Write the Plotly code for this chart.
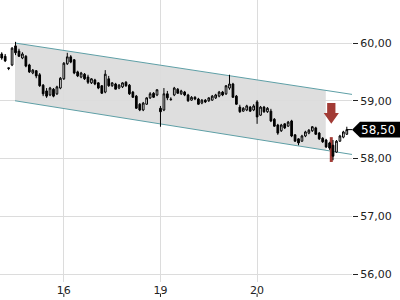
import plotly.graph_objects as go

# ---------------- data ----------------
opens = [59.81, 59.77, 59.57, 59.62, 59.95, 59.86, 59.74, 59.77, 59.62, 59.48,
         59.52, 59.45, 59.27, 59.17, 59.10, 59.20, 59.12, 59.22, 59.38, 59.64,
         59.76, 59.71, 59.50, 59.41, 59.46, 59.41, 59.31, 59.36, 59.31, 59.26,
         59.15, 59.38, 59.26, 59.29, 59.22, 59.24, 59.32, 59.27, 59.15, 59.08,
         58.94, 58.84, 58.94, 59.05, 59.13, 59.10, 58.87, 58.84, 59.12, 59.03,
         59.10, 59.20, 59.12, 59.15, 59.10, 59.01, 59.06, 59.03, 58.96, 59.01,
         59.00, 59.01, 59.05, 59.08, 59.15, 59.12, 59.22, 59.29, 59.08, 58.89,
         58.82, 58.84, 58.89, 58.84, 58.98, 58.75, 58.89, 58.81, 58.82, 58.68,
         58.58, 58.48, 58.60, 58.56, 58.65, 58.41, 58.34, 58.30, 58.39, 58.44,
         58.48, 58.53, 58.44, 58.35, 58.32, 58.27, 58.23, 58.11, 58.30, 58.37,
         58.42]
highs = [59.84, 59.81, 59.57, 59.93, 60.02, 59.90, 59.84, 59.79, 59.64, 59.55,
         59.53, 59.48, 59.29, 59.22, 59.24, 59.22, 59.26, 59.41, 59.67, 59.83,
         59.79, 59.72, 59.52, 59.50, 59.48, 59.45, 59.39, 59.38, 59.32, 59.27,
         59.53, 59.43, 59.32, 59.31, 59.29, 59.32, 59.34, 59.29, 59.17, 59.10,
         58.96, 58.98, 59.06, 59.15, 59.15, 59.20, 58.91, 59.22, 59.17, 59.06,
         59.24, 59.22, 59.19, 59.17, 59.12, 59.08, 59.08, 59.05, 59.03, 59.03,
         59.06, 59.10, 59.12, 59.17, 59.17, 59.27, 59.45, 59.31, 59.10, 58.93,
         58.89, 58.93, 58.91, 58.94, 59.01, 58.91, 58.91, 58.89, 58.86, 58.70,
         58.60, 58.60, 58.61, 58.65, 58.67, 58.42, 58.35, 58.41, 58.48, 58.51,
         58.56, 58.55, 58.46, 58.37, 58.34, 58.29, 58.32, 58.32, 58.41, 58.48,
         58.55]
lows = [59.71, 59.67, 59.53, 59.60, 59.79, 59.76, 59.72, 59.58, 59.48, 59.46,
        59.39, 59.24, 59.08, 59.05, 59.08, 59.06, 59.10, 59.20, 59.36, 59.62,
        59.65, 59.46, 59.41, 59.39, 59.36, 59.29, 59.29, 59.27, 59.20, 59.12,
        59.13, 59.24, 59.24, 59.20, 59.20, 59.22, 59.24, 59.10, 59.05, 58.86,
        58.82, 58.82, 58.93, 59.03, 59.05, 59.08, 58.55, 58.82, 59.01, 59.00,
        59.08, 59.12, 59.10, 59.08, 58.98, 59.00, 59.01, 58.93, 58.94, 58.96,
        58.98, 59.00, 59.03, 59.06, 59.08, 59.10, 59.19, 59.05, 58.93, 58.79,
        58.81, 58.82, 58.81, 58.82, 58.60, 58.74, 58.79, 58.79, 58.63, 58.55,
        58.41, 58.46, 58.51, 58.55, 58.37, 58.29, 58.23, 58.29, 58.37, 58.42,
        58.46, 58.41, 58.32, 58.27, 58.18, 58.15, 57.97, 58.10, 58.29, 58.35,
        58.41]
closes = [59.74, 59.69, 59.56, 59.91, 59.83, 59.77, 59.81, 59.60, 59.50, 59.53,
          59.43, 59.26, 59.12, 59.08, 59.22, 59.08, 59.24, 59.39, 59.65, 59.76,
          59.67, 59.48, 59.43, 59.48, 59.38, 59.32, 59.38, 59.29, 59.22, 59.13,
          59.46, 59.26, 59.31, 59.20, 59.27, 59.31, 59.26, 59.12, 59.06, 58.87,
          58.84, 58.96, 59.05, 59.12, 59.06, 59.19, 58.81, 59.12, 59.05, 59.02,
          59.22, 59.13, 59.17, 59.10, 59.00, 59.06, 59.03, 58.94, 59.01, 58.98,
          59.05, 59.08, 59.10, 59.15, 59.10, 59.26, 59.29, 59.06, 58.94, 58.81,
          58.87, 58.91, 58.82, 58.91, 58.72, 58.89, 58.81, 58.87, 58.65, 58.56,
          58.44, 58.58, 58.53, 58.63, 58.39, 58.30, 58.27, 58.39, 58.46, 58.49,
          58.55, 58.42, 58.34, 58.29, 58.20, 58.18, 58.04, 58.30, 58.39, 58.46,
          58.50]

day_labels = ["16", "19", "20"]
day_first_bar = [18, 46, 74]

# trend channel (bar index, price)
channel_start_x, channel_end_x, channel_fill_end_x = 3.85, 101.5, 93.9
channel_upper = [60.00, 59.11]
channel_lower = [59.00, 58.07]

# sell signal
signal_x = 95.5
signal_bar_range = [58.37, 57.94]
signal_arrow = [58.96, 58.79, 58.60]   # top, shaft end, tip

last_price = closes[-1]
price_ticks = [56, 57, 58, 59, 60]

# ---------------- figure ----------------
n = len(closes)
xs = list(range(n))
X_RANGE = [-0.5, 101.5]
Y_RANGE = [55.8615, 60.7446]

fig = go.Figure()

fig.add_trace(go.Candlestick(
    x=xs, open=opens, high=highs, low=lows, close=closes,
    increasing=dict(line=dict(color="black", width=1), fillcolor="white"),
    decreasing=dict(line=dict(color="black", width=1), fillcolor="black"),
    whiskerwidth=0, hoverinfo="skip", showlegend=False,
))

def lerp(a, b, t):
    return a + (b - a) * t

t_fill = (channel_fill_end_x - channel_start_x) / (channel_end_x - channel_start_x)
up_fill = lerp(channel_upper[0], channel_upper[1], t_fill)
lo_fill = lerp(channel_lower[0], channel_lower[1], t_fill)

shapes = []
# channel fill
shapes.append(dict(
    type="path", xref="x", yref="y", layer="below",
    path=(f"M {channel_start_x},{channel_upper[0]} L {channel_fill_end_x},{up_fill} "
          f"L {channel_fill_end_x},{lo_fill} L {channel_start_x},{channel_lower[0]} Z"),
    fillcolor="#dedede", line=dict(width=0),
))
# channel lines
for ys in (channel_upper, channel_lower):
    shapes.append(dict(type="line", xref="x", yref="y", layer="between",
                       x0=channel_start_x, x1=channel_end_x, y0=ys[0], y1=ys[1],
                       line=dict(color="#5e9fa6", width=1)))
# signal bar
shapes.append(dict(type="line", xref="x", yref="y", layer="between",
                   x0=signal_x, x1=signal_x, y0=signal_bar_range[0], y1=signal_bar_range[1],
                   line=dict(color="#a23b35", width=3)))
# signal arrow
sw, hw = 1.2, 2.2
a_top, a_mid, a_tip = signal_arrow
shapes.append(dict(
    type="path", xref="x", yref="y", layer="above",
    path=(f"M {signal_x - sw},{a_top} L {signal_x + sw},{a_top} L {signal_x + sw},{a_mid} "
          f"L {signal_x + hw},{a_mid} L {signal_x},{a_tip} L {signal_x - hw},{a_mid} "
          f"L {signal_x - sw},{a_mid} Z"),
    fillcolor="#a23b35", line=dict(width=0),
))
# last price connector + label box
shapes.append(dict(type="line", xref="x", yref="y", x0=n - 1, x1=X_RANGE[1],
                   y0=last_price, y1=last_price, line=dict(color="black", width=1)))
bh = 0.135
shapes.append(dict(
    type="path", xref="paper", yref="y", layer="above",
    path=(f"M 1.0,{last_price} L 1.0227,{last_price + bh} L 1.14,{last_price + bh} "
          f"L 1.14,{last_price - bh} L 1.0227,{last_price - bh} Z"),
    fillcolor="black", line=dict(width=0),
))
# x tick marks below labels
for xv in day_first_bar:
    shapes.append(dict(type="line", xref="x", yref="paper", x0=xv, x1=xv,
                       y0=-0.041, y1=-0.053, line=dict(color="#222", width=1)))

fig.update_layout(
    width=400, height=300,
    margin=dict(l=0, r=48, t=0, b=18),
    paper_bgcolor="white", plot_bgcolor="white",
    separators=",.",
    font=dict(family="DejaVu Sans", size=11, color="#222"),
    showlegend=False,
    shapes=shapes,
    annotations=[dict(xref="paper", yref="y", x=1.074, y=last_price,
                      text=f"{last_price:.2f}".replace(".", ","), showarrow=False,
                      font=dict(color="white", size=12, family="DejaVu Sans"),
                      xanchor="center", yanchor="middle")],
    xaxis=dict(range=X_RANGE, tickmode="array", tickvals=day_first_bar, ticktext=day_labels,
               showgrid=True, gridcolor="#dcdcdc", gridwidth=1, zeroline=False,
               showline=False, ticks="", rangeslider=dict(visible=False),
               tickfont=dict(size=11, color="#222")),
    yaxis=dict(range=Y_RANGE, side="right", tickvals=price_ticks, tickformat=".2f",
               showgrid=True, gridcolor="#dcdcdc", gridwidth=1, zeroline=False,
               showline=False, ticks="outside", ticklen=5, tickcolor="#222",
               tickfont=dict(size=11, color="#222")),
)

fig.write_html("out.html")
